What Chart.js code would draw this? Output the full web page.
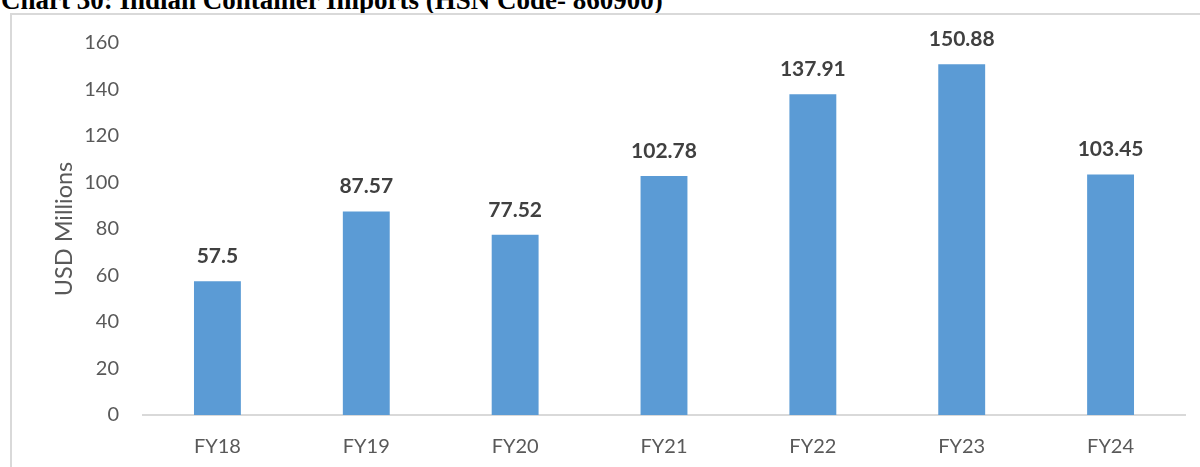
<!DOCTYPE html>
<html lang="en">
<head>
  <meta charset="UTF-8" />
  <title>Indian Container Imports</title>
  <script src="https://cdn.jsdelivr.net/npm/chart.js"></script>
  <style>
    html, body { margin: 0; padding: 0; background: #fff; overflow: hidden; }
    body { width: 1200px; height: 467px; position: relative; }
    .title {
      position: absolute; left: 1px; top: -13px; margin: 0;
      font: bold 27px "Liberation Serif", "Times New Roman", serif;
      line-height: 1; color: #000; white-space: nowrap;
    }
    .frame {
      position: absolute; left: 10px; top: 13px; width: 1210px; height: 480px;
      border: 2px solid #d9d9d9; box-sizing: border-box;
    }
    .chart-wrapper { position: absolute; left: 0; top: 0; width: 1200px; height: 467px; }
  </style>
</head>
<body>

<div class="title">Chart 30: Indian Container Imports (HSN Code- 860900)</div>
<div class="frame"></div>
<div class="chart-wrapper">
  <canvas id="importsChart"></canvas>
</div>

<script>
  // data
  const years = ["FY18", "FY19", "FY20", "FY21", "FY22", "FY23", "FY24"];
  const imports = [57.5, 87.57, 77.52, 102.78, 137.91, 150.88, 103.45];
  const yTicks = [0, 20, 40, 60, 80, 100, 120, 140, 160];

  const labelFont = "Lato, 'Open Sans', sans-serif";

  // value labels above the bars
  const valueLabels = {
    id: "valueLabels",
    afterDatasetsDraw(chart) {
      const ctx = chart.ctx;
      const meta = chart.getDatasetMeta(0);
      ctx.save();
      ctx.font = "bold 21px " + labelFont;
      ctx.fillStyle = "#404040";
      ctx.textAlign = "center";
      ctx.textBaseline = "alphabetic";
      meta.data.forEach((bar, i) => {
        ctx.fillText(String(imports[i]), bar.x, bar.y - 18);
      });
      ctx.restore();
    }
  };

  const ctx = document.getElementById("importsChart").getContext("2d");
  new Chart(ctx, {
    type: "bar",
    data: {
      labels: years,
      datasets: [{
        data: imports,
        backgroundColor: "#5b9bd5",
        borderWidth: 0,
        barPercentage: 1,
        categoryPercentage: 0.315
      }]
    },
    options: {
      responsive: true,
      maintainAspectRatio: false,
      animation: false,
      layout: { padding: { left: 0, right: 15, top: 43, bottom: 0 } },
      plugins: {
        legend: { display: false },
        tooltip: { enabled: false }
      },
      scales: {
        x: {
          grid: { display: false, drawTicks: false },
          border: { display: true, color: "#d9d9d9", width: 2 },
          ticks: { color: "#595959", font: { family: labelFont, size: 20 }, padding: 20 },
          afterFit(scale) { scale.height = 52; }
        },
        y: {
          min: 0,
          max: 160,
          grid: { display: false, drawTicks: false },
          border: { display: false },
          afterBuildTicks(scale) { scale.ticks = yTicks.map(v => ({ value: v })); },
          ticks: { color: "#595959", font: { family: labelFont, size: 20 }, padding: 24 },
          title: {
            display: true,
            text: "USD Millions",
            color: "#595959",
            font: { family: labelFont, size: 23.5, weight: "normal" },
            padding: { top: 50, bottom: 0 }
          },
          afterFit(scale) { scale.width = 143; }
        }
      }
    },
    plugins: [valueLabels]
  });
</script>
</body>
</html>
